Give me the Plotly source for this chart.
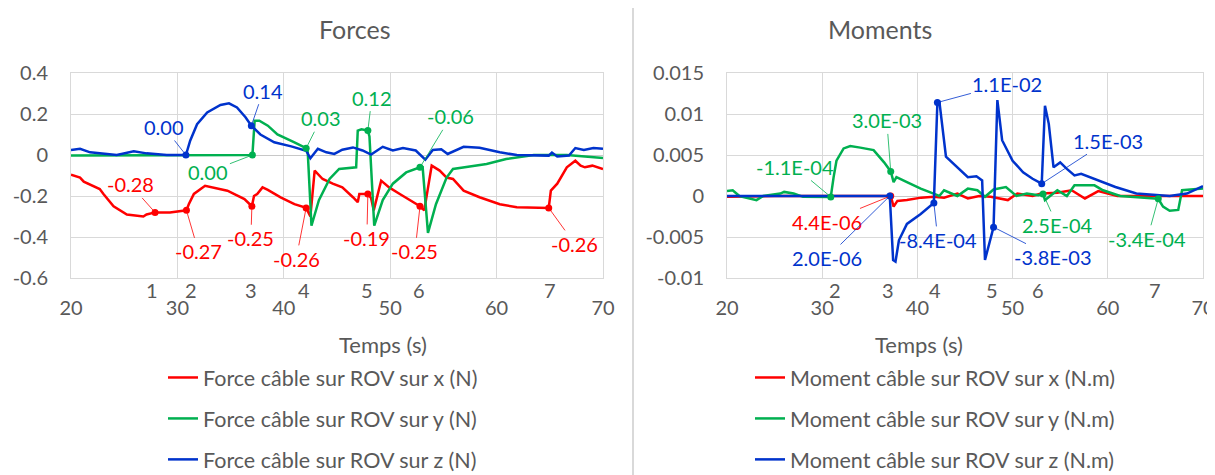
import plotly.graph_objects as go

# ---- data ----
# Forces (N)
t_fx = [20, 20.85, 21.2, 22.7, 23.05, 24, 25.25, 26.8, 27.1, 27.9, 29.3, 30.85, 31.07, 31.55, 32.6,
        33.4, 34.7, 36.3, 37.0, 37.2, 37.5, 38.0, 38.5, 39.7, 41.0, 42.1, 42.5, 42.9, 43.65, 44.6,
        45.5, 46.5, 46.95, 47.1, 47.9, 48.2, 48.45, 49.15, 49.9, 50.9, 52.1, 52.8, 53.2, 53.9, 54.65,
        55.3, 55.9, 56.9, 58.4, 60.3, 61.9, 63.5, 64.9, 65.1, 65.7, 66.6, 67.4, 67.9, 68.3, 69.0, 70]
fx = [-0.096, -0.11, -0.13, -0.166, -0.19, -0.25, -0.29, -0.30, -0.29, -0.28, -0.28, -0.27, -0.24,
      -0.19, -0.15, -0.158, -0.174, -0.215, -0.25, -0.20, -0.19, -0.158, -0.17, -0.207, -0.24, -0.258,
      -0.30, -0.076, -0.117, -0.14, -0.158, -0.206, -0.23, -0.19, -0.19, -0.21, -0.27, -0.125, -0.158,
      -0.19, -0.23, -0.25, -0.27, -0.052, -0.076, -0.11, -0.117, -0.174, -0.206, -0.24, -0.255, -0.255,
      -0.258, -0.174, -0.14, -0.06, -0.028, -0.052, -0.06, -0.052, -0.068]

t_fy = [20, 37.05, 37.26, 37.7, 38.5, 39.4, 41.0, 42.1, 42.25, 42.6, 43.3, 44.3, 45.2, 46.8, 46.95,
        47.3, 47.9, 48.05, 48.5, 49.3, 50.25, 51.5, 52.8, 53.05, 53.55, 54.3, 55.3, 55.9, 57.0, 59.06,
        60.9, 63.5, 66.6, 70]
fy = [-0.003, 0.0, 0.167, 0.167, 0.143, 0.10, 0.062, 0.033, 0.015, -0.345, -0.22, -0.117, -0.068,
      -0.06, 0.119, 0.125, 0.119, 0.09, -0.345, -0.22, -0.14, -0.085, -0.06, -0.06, -0.38, -0.24,
      -0.11, -0.068, -0.06, -0.044, -0.02, 0.0, 0.0, -0.015]

t_fz = [20, 20.85, 21.8, 23.05, 24.3, 25.9, 27.1, 29.0, 30.8, 31.2, 31.85, 32.8, 34.05, 34.85, 35.6,
        36.4, 36.95, 37.8, 39.1, 40.7, 42.1, 42.5, 43.2, 44.0, 44.75, 45.5, 46.5, 47.4, 48.2, 49.3,
        50.25, 51.2, 52.4, 53.3, 54.0, 54.8, 55.4, 56.9, 58.4, 60.3, 61.9, 64.9, 65.2, 65.7, 66.8,
        67.4, 68.2, 69.1, 70]
fz = [0.024, 0.03, 0.013, 0.005, 0.0, 0.018, 0.008, 0.0, 0.0, 0.07, 0.15, 0.208, 0.244, 0.252, 0.232,
      0.184, 0.143, 0.10, 0.062, 0.042, 0.021, -0.016, 0.03, 0.013, 0.005, 0.026, 0.037, 0.022, 0.002,
      0.04, 0.022, 0.034, 0.022, -0.023, 0.025, 0.028, 0.005, 0.04, 0.035, 0.013, 0.0, -0.003, 0.012,
      -0.007, -0.003, 0.034, 0.024, 0.034, 0.03]

# Moments (N.m)
t_mx = [20, 25, 30, 37.2, 37.5, 37.9, 38.9, 40.4, 41.7, 42.8, 44.2, 45.3, 46.5, 47.7, 49.5, 50.5,
        52.1, 53.0, 54.7, 56.2, 57.6, 59.0, 61.0, 65.0, 70]
mx = [-0.0001, 0.0, 0.0, 0.0000044, -0.0013, -0.0006, -0.0005, -0.0002, -0.0001, -0.0002, 0.0003,
      -0.0003, 0.0, -0.0001, -0.0005, 0.0003, 0.0, 0.0003, 0.0004, 0.0007, -0.0003, 0.0006, 0.0, 0.0, 0.0]

t_my = [20, 20.6, 21.3, 23.1, 23.8, 25.6, 26.0, 27.0, 28.0, 30.9, 31.2, 31.5, 32.25, 32.95, 34.0,
        35.4, 36.5, 37.2, 37.5, 37.8, 38.9, 40.35, 41.7, 42.3, 42.8, 43.5, 44.2, 45.3, 46.3, 47.1,
        48.0, 49.3, 50.4, 51.5, 52.7, 53.2, 53.4, 54.7, 55.7, 56.5, 58.6, 59.5, 61.3, 65.3, 65.8,
        66.5, 67.4, 67.8, 68.7, 70]
my = [0.0006, 0.0007, 0.0, -0.0005, 0.0, 0.0003, 0.0005, 0.0003, -0.0001, -0.00011, 0.0023, 0.0043,
      0.0058, 0.0061, 0.0059, 0.0056, 0.0041, 0.0030, 0.0017, 0.0023, 0.0017, 0.0009, 0.0003, 0.0,
      0.0007, 0.0003, 0.0, 0.0009, 0.0007, -0.0001, 0.0008, 0.0011, 0.0, 0.0003, 0.0001, 0.00025,
      -0.0005, 0.0007, 0.0, 0.0013, 0.0013, 0.0007, 0.0, -0.00034, -0.0013, -0.0018, -0.0017, 0.0007,
      0.0008, 0.0009]

t_mz = [20, 37.1, 37.45, 37.7, 38.06, 38.9, 40.35, 41.73, 42.1, 42.3, 43.0, 44.2, 45.3, 46.2, 46.8,
        47.1, 48.0, 48.4, 48.9, 50.0, 51.1, 52.1, 53.06, 53.4, 53.8, 54.3, 55.0, 55.7, 56.5, 57.2,
        58.6, 60.8, 63.0, 66.5, 68.3, 70]
mz = [0.0, 0.000002, -0.0078, -0.008, -0.0054, -0.0034, -0.0022, -0.00084, 0.0114, 0.0116, 0.0048,
      0.0035, 0.0023, 0.0024, 0.0019, -0.0078, -0.0038, 0.0117, 0.0068, 0.0043, 0.0029, 0.0021, 0.0015,
      0.011, 0.0088, 0.0035, 0.0041, 0.0033, 0.0025, 0.0027, 0.0021, 0.0011, 0.0003, 0.0, 0.0003, 0.0012]

names_f = ["Force câble sur ROV sur x (N)", "Force câble sur ROV sur y (N)", "Force câble sur ROV sur z (N)"]
names_m = ["Moment câble sur ROV sur x (N.m)", "Moment câble sur ROV sur y (N.m)",
           "Moment câble sur ROV sur z (N.m)"]

# labelled points: (series, time)
callouts_f = [("fx", 27.9), ("fx", 30.85), ("fx", 37.0), ("fx", 42.1), ("fz", 30.8), ("fz", 36.95),
              ("fy", 37.05), ("fy", 42.1), ("fy", 47.9), ("fy", 52.8), ("fx", 47.9), ("fx", 52.8),
              ("fx", 64.9)]
callouts_m = [("my", 30.9), ("my", 37.2), ("mx", 37.2), ("mz", 37.1), ("mz", 41.73), ("mz", 42.1),
              ("mz", 48.0), ("mz", 53.06), ("my", 53.2), ("my", 65.3)]

event_labels = ["1", "2", "3", "4", "5", "6", "7"]
event_t = [27.6, 31.3, 36.9, 41.9, 47.8, 52.7, 65.0]

x_ticks = [20, 30, 40, 50, 60, 70]
yf_ticks = [0.4, 0.2, 0, -0.2, -0.4, -0.6]
yf_text = ["0.4", "0.2", "0", "-0.2", "-0.4", "-0.6"]
ym_ticks = [0.015, 0.01, 0.005, 0, -0.005, -0.01]
ym_text = ["0.015", "0.01", "0.005", "0", "-0.005", "-0.01"]

# ---- styling ----
RED, GREEN, BLUE = "#FF0000", "#00B050", "#0033CC"
GREY_TXT = "#595959"
GRID = "#D9D9D9"
FONT = "Lato"
W, H = 1215, 475
OFF = 8   # the page body margin shifts the figure by 8px

series = {
    "fx": (t_fx, fx, RED), "fy": (t_fy, fy, GREEN), "fz": (t_fz, fz, BLUE),
    "mx": (t_mx, mx, RED), "my": (t_my, my, GREEN), "mz": (t_mz, mz, BLUE),
}

# label offsets in pixels (text centre relative to the point)
offsets_f = [(-25, -28), (12, 41), (-1, 32), (-10, 51), (-22, -28), (12, -35), (-44, 17), (15, -30),
             (4, -33), (31, -51), (-1, 44), (-5, 45), (26, 36)]
offsets_m = [(-36, -30), (-4, -51), (-64, 26), (-63, 62), (4, 37), (70, -19), (59, 30), (66, -43),
             (14, 31), (-11, 40)]


def X(p):
    # screen pixel -> paper x
    return (p - OFF) / W


def Y(p):
    # screen pixel (from top) -> paper y
    return 1 - (p - OFF) / H


fig = go.Figure()

for key, name in zip(["fx", "fy", "fz"], names_f):
    t, v, c = series[key]
    fig.add_trace(go.Scatter(x=t, y=v, mode="lines", name=name, line=dict(color=c, width=2.5),
                             xaxis="x", yaxis="y", legend="legend", legendgroup=key))
for key, name in zip(["mx", "my", "mz"], names_m):
    t, v, c = series[key]
    fig.add_trace(go.Scatter(x=t, y=v, mode="lines", name=name, line=dict(color=c, width=2.5),
                             xaxis="x2", yaxis="y2", legend="legend2", legendgroup=key))

annotations = []


def add_callouts(points, offsets, xref, yref, fmt):
    for (key, tt), (ax, ay) in zip(points, offsets):
        t, v, c = series[key]
        yv = v[t.index(tt)]
        fig.add_trace(go.Scatter(x=[tt], y=[yv], mode="markers", marker=dict(color=c, size=7),
                                 xaxis=xref, yaxis=yref, showlegend=False, hoverinfo="skip"))
        annotations.append(dict(x=tt, y=yv, xref=xref, yref=yref, text=fmt(yv), ax=ax, ay=ay,
                                showarrow=True, arrowhead=0, arrowwidth=0.8, arrowcolor=c,
                                standoff=3, font=dict(color=c, size=20, family=FONT)))


add_callouts(callouts_f, offsets_f, "x", "y", lambda v: f"{v:.2f}")
add_callouts(callouts_m, offsets_m, "x2", "y2", lambda v: f"{v:.1E}")

for lab, tt in zip(event_labels, event_t):
    for xr in ("x", "x2"):
        if xr == "x2" and lab == "1":
            continue
        annotations.append(dict(x=tt, y=Y(290), xref=xr, yref="paper", text=lab, yanchor="middle",
                                showarrow=False, font=dict(color=GREY_TXT, size=20, family=FONT)))

for txt, cx in (("Forces", 317), ("Moments", 934)):
    annotations.append(dict(x=X(cx), y=Y(29), xref="paper", yref="paper", text=txt, yanchor="middle",
                            showarrow=False, font=dict(color=GREY_TXT, size=25, family=FONT)))
for cx in (337, 965):
    annotations.append(dict(x=X(cx), y=Y(344), xref="paper", yref="paper", text="Temps (s)",
                            yanchor="middle", showarrow=False,
                            font=dict(color=GREY_TXT, size=22, family=FONT)))

axis_common = dict(showgrid=True, gridcolor=GRID, gridwidth=1, showline=True, linecolor=GRID,
                   mirror=True, ticks="outside", tickcolor="rgba(0,0,0,0)",
                   zeroline=True, zerolinecolor="#C8C8C8", zerolinewidth=1,
                   tickfont=dict(color=GREY_TXT, size=20, family=FONT), automargin=False)

y_dom = [Y(278), Y(73)]
legend_font = dict(size=21.5, color=GREY_TXT, family=FONT)

# legends anchored at the bottom so they stay inside the figure (no margin push)
fig.update_layout(
    width=W, height=H,
    margin=dict(l=0, r=0, t=0, b=0),
    paper_bgcolor="white", plot_bgcolor="white",
    font=dict(family=FONT, color=GREY_TXT),
    xaxis=dict(domain=[X(71), X(603)], range=[20, 70], tickvals=x_ticks, ticklen=12,
               anchor="y", **axis_common),
    yaxis=dict(domain=y_dom, range=[-0.6, 0.4], tickvals=yf_ticks, ticktext=yf_text, ticklen=18,
               anchor="x", **axis_common),
    xaxis2=dict(domain=[X(727), X(1203)], range=[20, 70], tickvals=x_ticks, ticklen=12,
                anchor="y2", **axis_common),
    yaxis2=dict(domain=y_dom, range=[-0.01, 0.015], tickvals=ym_ticks, ticktext=ym_text, ticklen=18,
                anchor="x2", **axis_common),
    legend=dict(x=X(163), y=Y(480), xanchor="left", yanchor="bottom",
                tracegroupgap=10, font=legend_font),
    legend2=dict(x=X(750), y=Y(480), xanchor="left", yanchor="bottom",
                 tracegroupgap=10, font=legend_font),
    annotations=annotations,
    shapes=[dict(type="line", xref="paper", yref="paper", x0=X(633), x1=X(633),
                 y0=Y(483), y1=Y(7), line=dict(color=GRID, width=2))],
)

fig.write_html("out.html")
